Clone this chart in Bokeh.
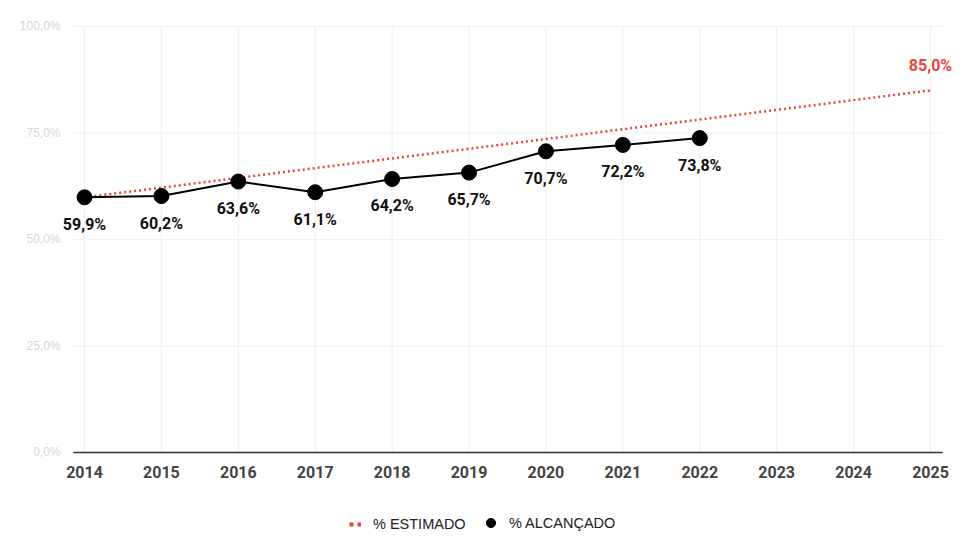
from bokeh.plotting import figure
from bokeh.models import (ColumnDataSource, FixedTicker, CustomJSTickFormatter, Range1d,
                          Legend, LegendItem, LabelSet, Label)
from bokeh.core.properties import value
from bokeh.embed import file_html
from bokeh.resources import INLINE

years = [2014, 2015, 2016, 2017, 2018, 2019, 2020, 2021, 2022]
achieved = [59.9, 60.2, 63.6, 61.1, 64.2, 65.7, 70.7, 72.2, 73.8]
est_years = [2014, 2025]
estimated = [59.9, 85.0]
year_ticks = list(range(2014, 2026))
pct_ticks = [0, 25, 50, 75, 100]

def fmt(v):
    return f"{v:.1f}".replace(".", ",") + "%"

RED = "#e8453c"
X_LEFT, X_RIGHT = 2013.857, 2025.156   # plot-area edges

p = figure(width=970, height=534, output_backend="svg", toolbar_location=None,
           x_range=Range1d(2012.9078, 2025.5202), y_range=Range1d(-19.25, 106.1),
           min_border=0)
p.outline_line_color = None
p.xgrid.visible = False
p.ygrid.visible = False

# grid lines limited to plot area
p.segment(x0=year_ticks, y0=[pct_ticks[0]] * len(year_ticks),
          x1=year_ticks, y1=[pct_ticks[-1]] * len(year_ticks),
          line_color="#eeeeee", line_width=1)
p.segment(x0=[X_LEFT] * len(pct_ticks), y0=pct_ticks,
          x1=[X_RIGHT] * len(pct_ticks), y1=pct_ticks,
          line_color="#f0f0f0", line_width=1)

# axes
p.xaxis.fixed_location = 0
p.xaxis.bounds = (X_LEFT, X_RIGHT)
p.xaxis.ticker = FixedTicker(ticks=year_ticks)
p.xaxis.major_label_text_font = "Roboto"
p.xaxis.major_label_text_font_style = "bold"
p.xaxis.major_label_text_font_size = "16px"
p.xaxis.major_label_text_color = "#444444"
p.xaxis.axis_line_color = "#333333"
p.xaxis.axis_line_width = 1.5
p.xaxis.major_tick_line_color = None
p.xaxis.minor_tick_line_color = None
p.xaxis.major_label_standoff = 8

p.yaxis.fixed_location = X_LEFT
p.yaxis.ticker = FixedTicker(ticks=pct_ticks)
p.yaxis.formatter = CustomJSTickFormatter(code="return tick.toFixed(1).replace('.', ',') + '%';")
p.yaxis.major_label_text_font = "Liberation Sans"
p.yaxis.major_label_text_font_size = "12px"
p.yaxis.major_label_text_color = "#d6d6d6"
p.yaxis.axis_line_color = None
p.yaxis.major_tick_line_color = None
p.yaxis.minor_tick_line_color = None
p.yaxis.major_label_standoff = 7

# estimated dotted line
est = p.line(est_years, estimated, line_color=RED, line_width=2.5, line_dash="2 3")
p.add_layout(Label(x=est_years[-1], y=estimated[-1], text=fmt(estimated[-1]), text_color=RED,
                   text_font="Roboto", text_font_style="bold", text_font_size="16px",
                   text_align="center", text_baseline="middle", y_offset=25))

# achieved line
src = ColumnDataSource(dict(x=years, y=achieved, lab=[fmt(v) for v in achieved]))
ach_line = p.line("x", "y", source=src, line_color="black", line_width=2)
ach_pts = p.scatter("x", "y", source=src, size=15, fill_color="black", line_color="black")
p.add_layout(LabelSet(x="x", y="y", text="lab", source=src, text_color="#111111",
                      text_font=value("Roboto"), text_font_style="bold", text_font_size="16px",
                      text_align="center", text_baseline="middle", y_offset=-27))

# legend icon for the estimate (legend-only renderer, draws nothing in the plot)
est_icon = p.line([est_years[0]], [float("nan")], line_color=RED, line_width=4, line_dash="4 4")

common = dict(orientation="horizontal", label_text_font="Liberation Sans",
              label_text_font_size="14.5px", label_text_color="#222222",
              background_fill_alpha=0, border_line_color=None, padding=0, margin=0)
leg1 = Legend(items=[LegendItem(label="% ESTIMADO", renderers=[est_icon])],
              location=(349, 2), glyph_width=12, glyph_height=14, label_standoff=12, **common)
leg2 = Legend(items=[LegendItem(label="% ALCANÇADO", renderers=[ach_pts])],
              location=(479, 0), glyph_width=23, glyph_height=23, label_standoff=7, **common)
p.add_layout(leg1, "center")
p.add_layout(leg2, "center")

open("out.html", "w").write(file_html(p, INLINE))
